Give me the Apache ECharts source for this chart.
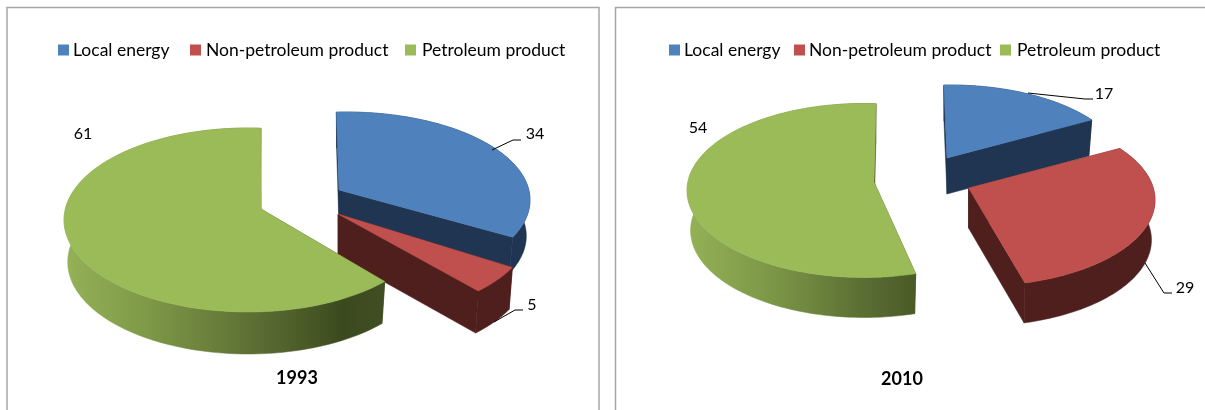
<!DOCTYPE html>
<html><head><meta charset="utf-8">
<style>html,body{margin:0;padding:0;background:#fff}#c{width:1205px;height:410px}</style>
<script src="https://cdn.jsdelivr.net/npm/echarts@6/dist/echarts.min.js"></script>
</head><body><div id="c"></div>
<script>
const categories = ['Local energy', 'Non-petroleum product', 'Petroleum product'];
const values1993 = [34, 5, 61];
const values2010 = [17, 29, 54];
const years = ['1993', '2010'];

const topColors = ['#4f81bd', '#c0504d', '#9bbb59'];
// projected look of each exploded slice: apex, rim ellipse, perspective angle shift (deg), depth
const look1993 = [
  {ax: 339, ay: 190, cx: 346, cy: 200, rx: 184, ry: 88, d0: -3, d1: -7.4, depth: 36},
  {ax: 338, ay: 214, cx: 347, cy: 228, rx: 184, ry: 90, d0: -6.4, d1: -5.9, depth: 42},
  {ax: 261, ay: 209, cx: 248, cy: 220, rx: 184, ry: 92, d0: -8.4, d1: 4, depth: 42}
];
const look2010 = [
  {ax: 947, ay: 158, cx: 950, cy: 172, rx: 177, ry: 87, d0: -2, d1: -8, depth: 36},
  {ax: 968.5, ay: 188, cx: 978, cy: 200, rx: 177, ry: 86, d0: -8, d1: -1, depth: 40},
  {ax: 874, ay: 182, cx: 864, cy: 190.5, rx: 177, ry: 87, d0: -2.6, d1: 3.9, depth: 40}
];
const notes1993 = [
  {text: [535, 134], line: [[492, 150], [513, 140], [521, 140]]},
  {text: [532, 305], line: [[494, 322], [515, 310], [523, 310]]},
  {text: [83, 134]}
];
const notes2010 = [
  {text: [1104, 94], line: [[1028, 93], [1085, 99], [1093, 99]]},
  {text: [1185, 288], line: [[1145, 263], [1164, 293], [1172, 293]]},
  {text: [698, 128]}
];
const wallFills = ['#1f3552', '#4f1f1e', null];
const font = 'Lato, "Noto Sans", sans-serif';

function sliceSeries(values, looks, notes, idx, gradient) {
  const total = values.reduce((a, b) => a + b, 0);
  const startPct = values.slice(0, idx).reduce((a, b) => a + b, 0);
  const look = looks[idx], note = notes[idx];
  const pt = (t, f, low) => {
    const phi = t + (look.d0 + (look.d1 - look.d0) * f) * Math.PI / 180;
    const s = low ? 0.98 : 1;
    return [look.cx + look.rx * Math.sin(phi) * s,
            look.cy - look.ry * Math.cos(phi) + (low ? look.depth : 0)];
  };
  return {
    type: 'custom', name: categories[idx], coordinateSystem: 'none', silent: true,
    itemStyle: {color: topColors[idx]},
    data: [[values[idx]]],
    renderItem(params, api) {
      const val = api.value(0);
      const a0 = startPct / total * 2 * Math.PI, a1 = (startPct + val) / total * 2 * Math.PI;
      const top = [], low = [], N = 120;
      for (let i = 0; i <= N; i++) {
        const f = i / N, t = a0 + (a1 - a0) * f;
        top.push(pt(t, f, false)); low.push(pt(t, f, true));
      }
      const A = [look.ax, look.ay], B = [look.ax, look.ay + look.depth];
      const wall = gradient ? new echarts.graphic.LinearGradient(0, 0, 1, 0, gradient) : wallFills[idx];
      const flat = gradient ? gradient[gradient.length - 1].color : wallFills[idx];
      const poly = (points, fill) => ({type: 'polygon', shape: {points}, style: {fill, stroke: fill, lineWidth: .5}});
      const children = [
        poly([A, top[0], low[0], B], flat),
        poly([A, top[N], low[N], B], flat),
        poly(top.concat(low.slice().reverse()), wall),
        poly([A].concat(top), topColors[idx])
      ];
      if (note.line) children.push({type: 'polyline', shape: {points: note.line},
        style: {fill: 'none', stroke: '#000', lineWidth: 1}});
      children.push({type: 'text', x: note.text[0], y: note.text[1],
        style: {text: String(val), fill: '#000', font: '16px ' + font, align: 'center', verticalAlign: 'middle'}});
      return {type: 'group', children};
    }
  };
}
const greenWall1993 = [{offset: 0, color: '#94b257'}, {offset: .25, color: '#7f9a48'}, {offset: .6, color: '#5c6e33'},
  {offset: .87, color: '#3b4a1e'}, {offset: 1, color: '#414e23'}];
const greenWall2010 = [{offset: 0, color: '#94b257'}, {offset: .4, color: '#7a9445'}, {offset: .75, color: '#5c7034'}, {offset: 1, color: '#4a5a27'}];

const series = [];
[0, 1, 2].forEach(i => series.push(sliceSeries(values1993, look1993, notes1993, i, i === 2 ? greenWall1993 : null)));
[0, 1, 2].forEach(i => series.push(sliceSeries(values2010, look2010, notes2010, i, i === 2 ? greenWall2010 : null)));

const legendLefts = [58, 190, 405, 669, 794, 1000];
const legendTextShift = [0, 1, 2, 0, 0, 2];
const legends = legendLefts.map((left, i) => ({
  left, top: 41, padding: 0, orient: 'horizontal', icon: 'rect', itemWidth: 11, itemHeight: 11,
  itemStyle: {borderWidth: 0}, selectedMode: false, data: [categories[i % 3]],
  textStyle: {color: '#000', fontFamily: font, fontSize: 17.5, padding: [0, 0, 0, -1 + legendTextShift[i]]}
}));

const chart = echarts.init(document.getElementById('c'), null, {renderer: 'canvas'});
chart.setOption({
  animation: false,
  backgroundColor: '#fff',
  title: [
    {text: years[0], left: 297, top: 378, textAlign: 'center', textVerticalAlign: 'middle', padding: 0,
      textStyle: {fontFamily: font, fontWeight: 'bold', fontSize: 18, color: '#000'}},
    {text: years[1], left: 902, top: 379, textAlign: 'center', textVerticalAlign: 'middle', padding: 0,
      textStyle: {fontFamily: font, fontWeight: 'bold', fontSize: 18, color: '#000'}}
  ],
  legend: legends,
  graphic: [
    {type: 'polyline', silent: true, shape: {points: [[7, 410], [7, 7.5], [599, 7.5], [599, 410]]}, style: {fill: 'none', stroke: '#a6a6a6', lineWidth: 1.5}},
    {type: 'polyline', silent: true, shape: {points: [[615.5, 410], [615.5, 7.5], [1205, 7.5]]}, style: {fill: 'none', stroke: '#a6a6a6', lineWidth: 1.5}}
  ],
  series
});
</script></body></html>
